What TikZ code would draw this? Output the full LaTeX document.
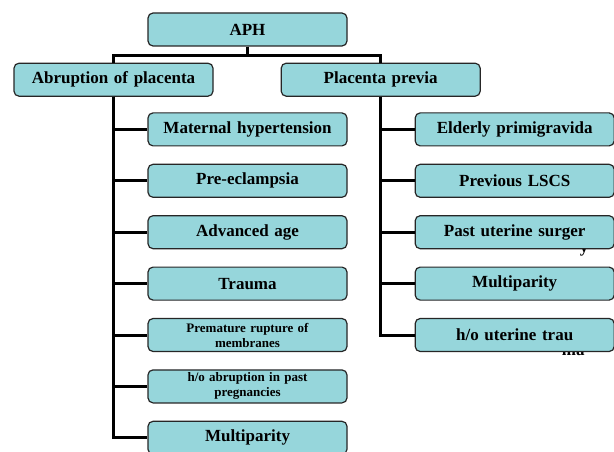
\documentclass[tikz,border=0pt]{standalone}
\usepackage{fontspec}
\setmainfont{Liberation Serif}
\usetikzlibrary{positioning, backgrounds}
\definecolor{boxteal}{RGB}{150,214,219}

\begin{document}
\begin{tikzpicture}[node distance=17.2pt,
  box/.style={draw=black!85, fill=boxteal, rounded corners=5pt, line width=1.2pt, text width=191pt, inner xsep=4pt, inner ysep=2pt, minimum height=33pt, align=center, font=\fontsize{17pt}{20pt}\selectfont\bfseries},
  smallbox/.style={box, font=\fontsize{13pt}{15pt}\selectfont\bfseries},
  tree/.style={line width=3pt},
  frag/.style={font=\fontsize{17pt}{20pt}\selectfont\bfseries, inner sep=0pt}]
  \useasboundingbox (0,0) rectangle (614pt,-452pt);

  % Wurzel und die beiden Hauptursachen
  \node[box] (aph) at (247.5pt,-29.5pt) {APH};
  \node[box, below=16pt of aph, xshift=-134pt] (abrupt) {Abruption of placenta};
  \node[box, right=67pt of abrupt] (previa) {Placenta previa};

  % Risikofaktoren Abruption (linke Spalte)
  \node[box, below right=15.5pt and 134pt of abrupt.south west] (hyper) {Maternal hypertension};
  \node[box, below=of hyper] (eclampsia) {Pre-eclampsia};
  \node[box, below=of eclampsia] (age) {Advanced age};
  \node[box, below=of age] (trauma) {Trauma};
  \node[smallbox, below=of trauma] (prom) {Premature rupture of\\membranes};
  \node[smallbox, below=of prom] (abhist) {h/o abruption in past\\pregnancies};
  \node[box, below=of abhist] (multileft) {Multiparity};

  % Risikofaktoren Placenta previa (rechte Spalte)
  \node[box, below right=15.5pt and 134pt of previa.south west] (elderly) {Elderly primigravida};
  \node[box, below=of elderly] (lscs) {Previous LSCS};
  \node[box, below=of lscs] (surgery) {Past uterine surger};
  \node[box, below=of surgery] (multiright) {Multiparity};
  \node[box, below=of multiright] (injury) {h/o uterine trau};

  % abgeschnittene Textreste unter den Kaesten
  \begin{scope}[on background layer]
    \node[frag, anchor=base] (surgtail) at ([xshift=69.5pt, yshift=-3pt]surgery.south) {y};
    \node[frag, anchor=base] (injtail) at ([xshift=58.5pt, yshift=-3pt]injury.south) {ma};
  \end{scope}

  % Verbindungen
  \draw[tree] (aph.south) -- ++(0,-8.5pt) -| (abrupt.north);
  \draw[tree] (aph.south) -- ++(0,-8.5pt) -| (previa.north);
  \foreach \n in {hyper, eclampsia, age, trauma, prom, abhist, multileft}
    \draw[tree] (abrupt.south) |- (\n.west);
  \foreach \n in {elderly, lscs, surgery, multiright, injury}
    \draw[tree] (previa.south) |- (\n.west);
\end{tikzpicture}
\end{document}
